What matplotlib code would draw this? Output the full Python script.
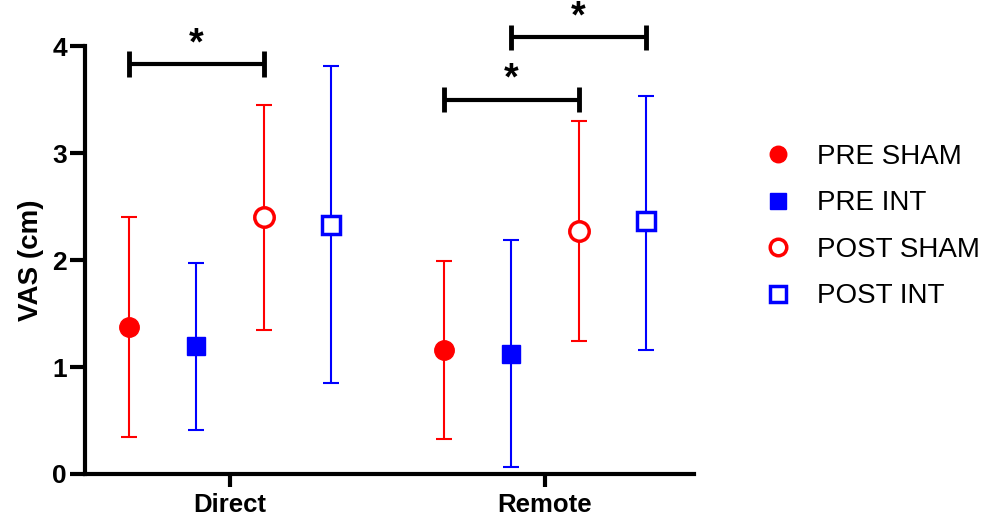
import numpy as np
import matplotlib.pyplot as plt

plt.rcParams['font.family'] = ['Liberation Sans', 'DejaVu Sans']

grupos = ["Direct", "Remote"]
series = ["PRE SHAM", "PRE INT", "POST SHAM", "POST INT"]

# media, limite superior e inferior (cm)
medias = {
    "PRE SHAM": [1.37, 1.16],
    "PRE INT": [1.20, 1.12],
    "POST SHAM": [2.40, 2.27],
    "POST INT": [2.33, 2.36],
}
superior = {
    "PRE SHAM": [2.40, 1.99],
    "PRE INT": [1.97, 2.19],
    "POST SHAM": [3.45, 3.30],
    "POST INT": [3.81, 3.53],
}
inferior = {
    "PRE SHAM": [0.35, 0.33],
    "PRE INT": [0.41, 0.07],
    "POST SHAM": [1.35, 1.24],
    "POST INT": [0.85, 1.16],
}

# comparacoes significativas: (grupo, serie a, serie b, altura)
comparacoes = [
    (0, 0, 2, 3.83),
    (1, 0, 2, 3.50),
    (1, 1, 3, 4.08),
]

estilos = {
    "PRE SHAM": dict(color="red", marker="o", mfc="red", ms=14),
    "PRE INT": dict(color="blue", marker="s", mfc="blue", ms=13),
    "POST SHAM": dict(color="red", marker="o", mfc="white", ms=14, mew=2.5),
    "POST INT": dict(color="blue", marker="s", mfc="white", ms=13, mew=2.5),
}
offsets = [-0.32, -0.107, 0.107, 0.32]

fig = plt.figure(figsize=(9.85, 5.23), dpi=100)
ax = fig.add_axes([0.0863, 0.0937, 0.6183, 0.8183])

x = np.arange(len(grupos))
for i, s in enumerate(series):
    m = np.array(medias[s])
    err = [m - np.array(inferior[s]), np.array(superior[s]) - m]
    st = estilos[s]
    ax.errorbar(x + offsets[i], m, yerr=err, fmt="none", ecolor=st["color"],
                elinewidth=1.5, capsize=6, capthick=1.5, zorder=2)
    ax.plot(x + offsets[i], m, linestyle="none", marker=st["marker"],
            mfc=st["mfc"], mec=st["color"], ms=st["ms"], mew=st.get("mew", 1),
            label=s, zorder=3)

for g, a, b, h in comparacoes:
    x1, x2 = g + offsets[a], g + offsets[b]
    ax.plot([x1, x2], [h, h], color="black", lw=3, clip_on=False, solid_capstyle="butt")
    for xx in (x1, x2):
        ax.plot([xx, xx], [h - 0.12, h + 0.12], color="black", lw=3.5,
                clip_on=False, solid_capstyle="butt")
    ax.text((x1 + x2) / 2, h + 0.02, "*", ha="center", va="bottom",
            fontsize=27, fontweight="bold")

ax.set_xlim(-0.46, 1.473)
ax.set_ylim(0, 4)
ax.set_yticks([0, 1, 2, 3, 4])
ax.set_xticks(x)
ax.set_xticklabels(grupos, fontsize=18.5, fontweight="bold")
for lbl in ax.get_yticklabels():
    lbl.set_fontsize(19)
    lbl.set_fontweight("bold")
ax.set_ylabel("VAS (cm)", fontsize=20, fontweight="bold", labelpad=6)

for sp in ["top", "right"]:
    ax.spines[sp].set_visible(False)
for sp in ["left", "bottom"]:
    ax.spines[sp].set_linewidth(3)
ax.tick_params(axis="y", length=11, width=3, pad=2)
ax.tick_params(axis="x", length=9, width=3, pad=5)

ax.legend(loc="upper left", bbox_to_anchor=(1.06, 0.83), frameon=False,
          fontsize=20, handletextpad=0.6, labelspacing=0.74, numpoints=1,
          markerscale=0.85, handlelength=1.6)

plt.savefig("out.png", dpi=100)
